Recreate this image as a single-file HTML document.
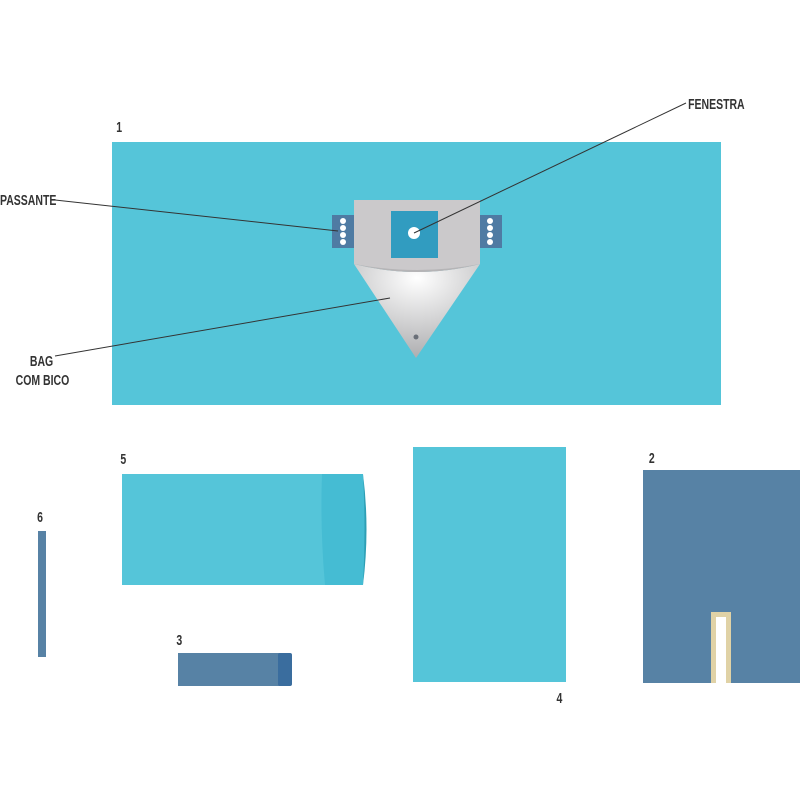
<!DOCTYPE html>
<html><head><style>
html,body{margin:0;padding:0;background:#fff;width:800px;height:800px;overflow:hidden}
text{font-family:"Liberation Sans",sans-serif;fill:#333;font-size:15px;font-weight:bold}
</style></head><body>
<svg width="800" height="800" viewBox="0 0 800 800" xmlns="http://www.w3.org/2000/svg">
<defs>
<radialGradient id="g" cx="0.5" cy="0.15" r="0.9">
<stop offset="0" stop-color="#ffffff"/><stop offset="1" stop-color="#a9a9ab"/>
</radialGradient>
</defs>
<rect x="112" y="142" width="609" height="263" fill="#55c5d9"/>
<rect x="332" y="215" width="22" height="33" fill="#4f7ba3"/>
<rect x="480" y="215" width="22" height="33" fill="#4f7ba3"/>
<g fill="#fff">
<circle cx="343" cy="221" r="3"/><circle cx="343" cy="228" r="3"/><circle cx="343" cy="235" r="3"/><circle cx="343" cy="242" r="3"/>
<circle cx="490" cy="221" r="3"/><circle cx="490" cy="228" r="3"/><circle cx="490" cy="235" r="3"/><circle cx="490" cy="242" r="3"/>
</g>
<path d="M354 264 Q417 280 480 264 L416 358 Z" fill="url(#g)"/>
<path d="M354 200 L480 200 L480 264 Q417 280 354 264 Z" fill="#cbc9cb"/>
<path d="M354 264 Q417 280 480 264 Q417 276 354 264Z" fill="#b5b4b6"/>
<rect x="391" y="211" width="47" height="47" fill="#319cc0"/>
<circle cx="414" cy="233" r="6" fill="#fff"/>
<circle cx="416" cy="337" r="2.5" fill="#6a6f78"/>
<g stroke="#333" stroke-width="1" fill="none">
<line x1="414" y1="233" x2="686" y2="103"/>
<line x1="55" y1="200" x2="338" y2="231"/>
<line x1="55" y1="356" x2="390" y2="298"/>
</g>
<rect x="122" y="474" width="203" height="111" fill="#55c5d9"/>
<path d="M322 474 L363 474 Q368 529 363 585 L325 585 Q320 529 322 474Z" fill="#45bcd3"/>
<path d="M363 474 Q370 529 363 585 Q366 529 363 474Z" fill="#2e9fb5"/>
<rect x="413" y="447" width="153" height="235" fill="#55c5d9"/>
<rect x="643" y="470" width="157" height="213" fill="#5782a5"/>
<rect x="711" y="612" width="20" height="71" fill="#e0d2a6"/>
<rect x="716" y="617" width="10" height="66" fill="#fff"/>
<rect x="178" y="653" width="103" height="33" fill="#5782a5"/>
<rect x="278" y="653" width="14" height="33" rx="2" fill="#3a6d9e"/>
<rect x="38" y="531" width="8" height="126" fill="#5782a5"/>
<g transform="scale(0.7,1)">
<text x="166" y="132" font-size="18">1</text>
<text x="983" y="109">FENESTRA</text>
<text x="0" y="205">PASSANTE</text>
<text x="76" y="366" text-anchor="end">BAG</text>
<text x="99" y="385" text-anchor="end">COM BICO</text>
<text x="172" y="464" font-size="18">5</text>
<text x="53" y="522" font-size="18">6</text>
<text x="252" y="645" font-size="18">3</text>
<text x="795" y="703" font-size="18">4</text>
<text x="927" y="463" font-size="18">2</text>
</g>
</svg>
</body></html>
